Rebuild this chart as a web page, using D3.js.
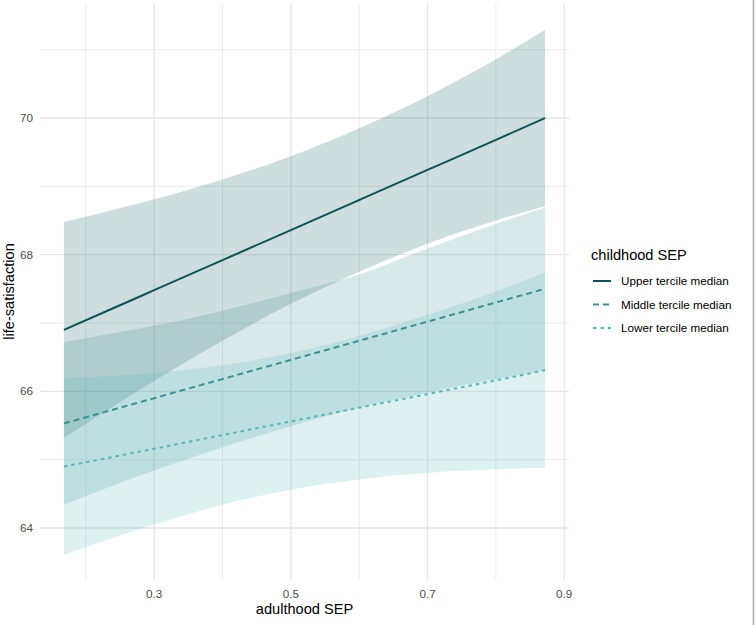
<!DOCTYPE html>
<html>
<head>
<meta charset="utf-8">
<script src="https://cdn.jsdelivr.net/npm/d3@7"></script>
<style>
  body { margin: 0; background: #fff; }
  svg { display: block; font-family: "Liberation Sans", Arial, sans-serif; }
</style>
</head>
<body>
<div id="chart"></div>
<script>
const sep = [0.168, 0.25, 0.3, 0.4, 0.5, 0.6, 0.7, 0.8, 0.872];

// predicted life-satisfaction per childhood SEP group
const upperFit = [66.90, 67.26, 67.48, 67.92, 68.36, 68.80, 69.24, 69.68, 70.00];
const upperHi  = [68.48, 68.68, 68.81, 69.10, 69.44, 69.85, 70.32, 70.86, 71.29];
const upperLo  = [65.32, 65.84, 66.15, 66.74, 67.28, 67.75, 68.16, 68.50, 68.71];

const middleFit = [65.53, 65.76, 65.90, 66.18, 66.46, 66.74, 67.02, 67.30, 67.50];
const middleHi  = [66.72, 66.87, 66.96, 67.18, 67.44, 67.71, 68.09, 68.45, 68.69];
const middleLo  = [64.34, 64.66, 64.84, 65.18, 65.49, 65.76, 65.98, 66.18, 66.30];

const lowerFit = [64.90, 65.06, 65.16, 65.36, 65.56, 65.76, 65.96, 66.16, 66.31];
const lowerHi  = [66.19, 66.23, 66.27, 66.38, 66.56, 66.81, 67.12, 67.46, 67.74];
const lowerLo  = [63.61, 63.89, 64.05, 64.34, 64.56, 64.71, 64.81, 64.86, 64.88];

const groupNames = ["Upper tercile median", "Middle tercile median", "Lower tercile median"];

const xTicks = [0.3, 0.5, 0.7, 0.9];
const xMinor = [0.2, 0.4, 0.6, 0.8];
const yTicks = [64, 66, 68, 70];
const yMinor = [65, 67, 69, 71];

const width = 755, height = 625;
const panel = { left: 40, right: 569, top: 3, bottom: 580 };

const svg = d3.select("#chart").append("svg")
  .attr("width", width)
  .attr("height", height);

const x = d3.scaleLinear()
  .domain([0.133, 0.907])
  .range([panel.left, panel.right]);

const y = d3.scaleLinear()
  .domain([64, 70])
  .range([528, 118]);

// grid
const grid = svg.append("g");
grid.selectAll(".vminor").data(xMinor).enter().append("line")
  .attr("x1", d => x(d)).attr("x2", d => x(d))
  .attr("y1", panel.top).attr("y2", panel.bottom)
  .attr("stroke", "#ececec").attr("stroke-width", 1);
grid.selectAll(".vmajor").data(xTicks).enter().append("line")
  .attr("x1", d => x(d)).attr("x2", d => x(d))
  .attr("y1", panel.top).attr("y2", panel.bottom)
  .attr("stroke", "#e6e6e6").attr("stroke-width", 1.3);
grid.selectAll(".hminor").data(yMinor).enter().append("line")
  .attr("x1", panel.left).attr("x2", panel.right)
  .attr("y1", d => y(d)).attr("y2", d => y(d))
  .attr("stroke", "#ececec").attr("stroke-width", 1);
grid.selectAll(".hmajor").data(yTicks).enter().append("line")
  .attr("x1", panel.left).attr("x2", panel.right)
  .attr("y1", d => y(d)).attr("y2", d => y(d))
  .attr("stroke", "#e6e6e6").attr("stroke-width", 1.3);

const groups = [
  { name: groupNames[0], fit: upperFit, lo: upperLo, hi: upperHi, color: "#0b5354", dash: null },
  { name: groupNames[1], fit: middleFit, lo: middleLo, hi: middleHi, color: "#3b9090", dash: "6,4" },
  { name: groupNames[2], fit: lowerFit, lo: lowerLo, hi: lowerHi, color: "#5cb8b8", dash: "3.5,4" }
];

const area = d3.area()
  .x((d, i) => x(sep[i]))
  .y0(d => y(d[0]))
  .y1(d => y(d[1]))
  .curve(d3.curveMonotoneX);

const line = d3.line()
  .x((d, i) => x(sep[i]))
  .y(d => y(d))
  .curve(d3.curveMonotoneX);

// ribbons
svg.append("g").selectAll("path")
  .data(groups)
  .enter()
  .append("path")
  .attr("d", g => area(g.lo.map((v, i) => [v, g.hi[i]])))
  .attr("fill", g => g.color)
  .attr("fill-opacity", 0.2);

// fitted lines
svg.append("g").selectAll("path")
  .data(groups)
  .enter()
  .append("path")
  .attr("d", g => line(g.fit))
  .attr("fill", "none")
  .attr("stroke", g => g.color)
  .attr("stroke-width", 2)
  .attr("stroke-dasharray", g => g.dash);

// axis labels
svg.append("g").selectAll("text")
  .data(yTicks)
  .enter()
  .append("text")
  .attr("x", 33)
  .attr("y", d => y(d))
  .attr("dy", "0.35em")
  .attr("text-anchor", "end")
  .attr("fill", "#4d4d4d")
  .style("font-size", "11.7px")
  .text(d => d);

svg.append("g").selectAll("text")
  .data(xTicks)
  .enter()
  .append("text")
  .attr("x", d => x(d))
  .attr("y", 598)
  .attr("text-anchor", "middle")
  .attr("fill", "#4d4d4d")
  .style("font-size", "11.7px")
  .text(d => d3.format(".1f")(d));

svg.append("text")
  .attr("x", (panel.left + panel.right) / 2)
  .attr("y", 614)
  .attr("text-anchor", "middle")
  .style("font-size", "14.6px")
  .text("adulthood SEP");

svg.append("text")
  .attr("transform", "translate(14," + (panel.top + panel.bottom) / 2 + ") rotate(-90)")
  .attr("text-anchor", "middle")
  .style("font-size", "14.6px")
  .text("life-satisfaction");

// legend
const legend = svg.append("g").attr("transform", "translate(591,0)");
legend.append("text")
  .attr("x", 0)
  .attr("y", 260)
  .style("font-size", "14.6px")
  .text("childhood SEP");

const item = legend.selectAll(".item")
  .data(groups)
  .enter()
  .append("g")
  .attr("transform", (d, i) => "translate(0," + (281 + i * 23.5) + ")");
item.append("line")
  .attr("x1", 2).attr("x2", 20)
  .attr("stroke", d => d.color)
  .attr("stroke-width", 2)
  .attr("stroke-dasharray", d => d.dash);
item.append("text")
  .attr("x", 30)
  .attr("dy", "0.35em")
  .style("font-size", "11.7px")
  .text(d => d.name);

// window edge seen at the right of the screenshot
svg.append("line")
  .attr("x1", 753.5).attr("x2", 753.5)
  .attr("y1", 0).attr("y2", height)
  .attr("stroke", "#a6a6a6")
  .attr("stroke-width", 1.5);
</script>
</body>
</html>
